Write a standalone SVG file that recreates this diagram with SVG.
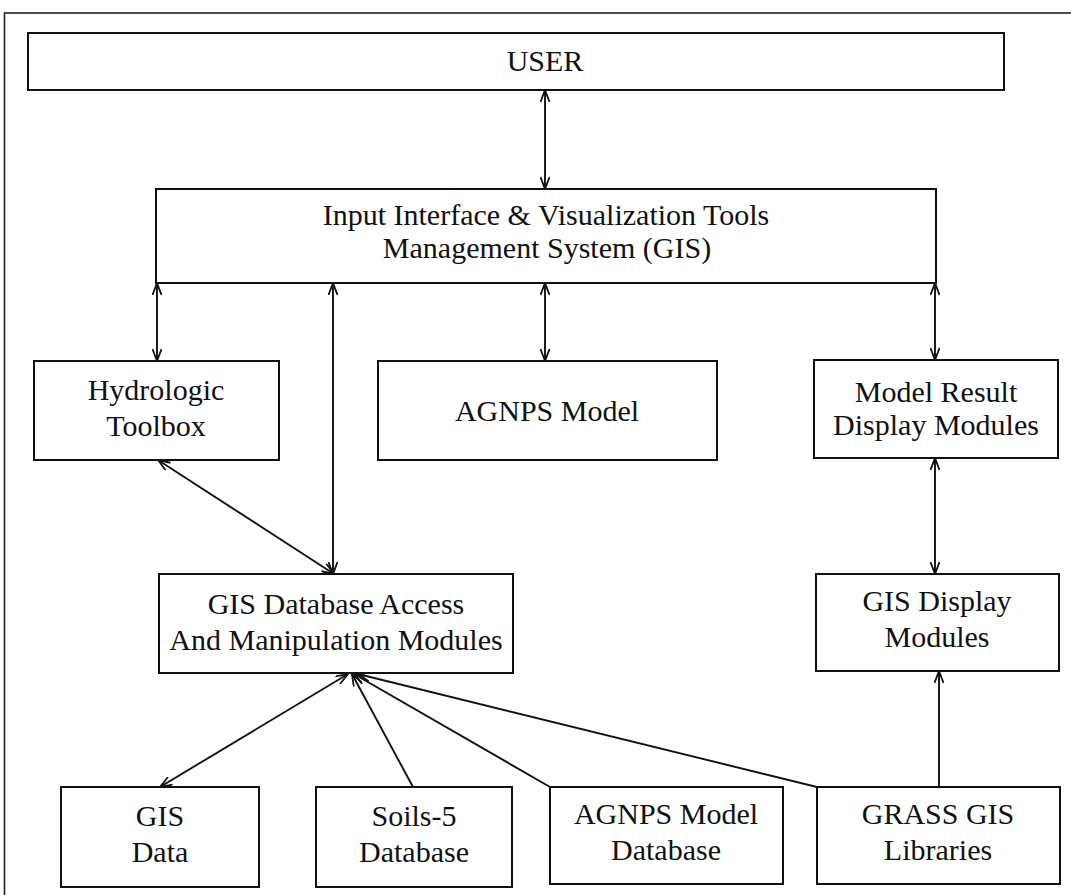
<svg xmlns="http://www.w3.org/2000/svg" width="1071" height="895" viewBox="0 0 1071 895">
<style>
.box{fill:#fff;stroke:#111;stroke-width:2}
.t{font-family:"Liberation Serif","Times New Roman",serif;font-size:30px;fill:#111;text-anchor:middle}
.c{fill:none;stroke:#111;stroke-width:1.9}
.frame{fill:none;stroke:#222;stroke-width:1.6}
</style>
<defs>
<marker id="ah" viewBox="0 0 14 10" refX="13" refY="5" markerWidth="14" markerHeight="10" markerUnits="userSpaceOnUse" orient="auto-start-reverse">
<path d="M1,0.5 L13,5 L1,9.5" fill="none" stroke="#111" stroke-width="1.8"/>
</marker>
</defs>
<rect class="frame" x="4.5" y="13" width="1090" height="900"/>
<g id="connectors">
<line class="c" x1="545" y1="90" x2="545" y2="189" marker-start="url(#ah)" marker-end="url(#ah)"/>
<line class="c" x1="157" y1="283" x2="157" y2="361" marker-start="url(#ah)" marker-end="url(#ah)"/>
<line class="c" x1="333" y1="283" x2="333" y2="574" marker-start="url(#ah)" marker-end="url(#ah)"/>
<line class="c" x1="545" y1="283" x2="545" y2="361" marker-start="url(#ah)" marker-end="url(#ah)"/>
<line class="c" x1="935" y1="283" x2="935" y2="360" marker-start="url(#ah)" marker-end="url(#ah)"/>
<line class="c" x1="158" y1="460" x2="334" y2="574" marker-start="url(#ah)" marker-end="url(#ah)"/>
<line class="c" x1="935" y1="458" x2="935" y2="574" marker-start="url(#ah)" marker-end="url(#ah)"/>
<line class="c" x1="939" y1="787" x2="939" y2="671" marker-end="url(#ah)"/>
<line class="c" x1="160" y1="787" x2="348" y2="674" marker-start="url(#ah)" marker-end="url(#ah)"/>
<line class="c" x1="413" y1="787" x2="352" y2="674" marker-end="url(#ah)"/>
<line class="c" x1="550" y1="787" x2="354" y2="674" marker-end="url(#ah)"/>
<line class="c" x1="817" y1="787" x2="358" y2="674" marker-end="url(#ah)"/>
</g>
<g id="user"><rect class="box" x="28" y="33" width="976" height="57"/><text class="t" x="545" y="71">USER</text></g>
<g id="interface"><rect class="box" x="156" y="189" width="780" height="94"/><text class="t" x="546" y="225">Input Interface &amp; Visualization Tools</text><text class="t" x="547" y="258">Management System (GIS)</text></g>
<g id="hydrologic"><rect class="box" x="34" y="361" width="245" height="99"/><text class="t" x="156" y="400">Hydrologic</text><text class="t" x="156" y="436">Toolbox</text></g>
<g id="agnps-model"><rect class="box" x="378" y="361" width="339" height="99"/><text class="t" x="547" y="421">AGNPS Model</text></g>
<g id="model-result"><rect class="box" x="814" y="360" width="244" height="98"/><text class="t" x="936" y="402">Model Result</text><text class="t" x="936" y="435">Display Modules</text></g>
<g id="gis-db-access"><rect class="box" x="159" y="574" width="354" height="99"/><text class="t" x="336" y="614">GIS Database Access</text><text class="t" x="336" y="650">And Manipulation Modules</text></g>
<g id="gis-display"><rect class="box" x="816" y="574" width="243" height="97"/><text class="t" x="937" y="611">GIS Display</text><text class="t" x="937" y="647">Modules</text></g>
<g id="gis-data"><rect class="box" x="61" y="787" width="198" height="100"/><text class="t" x="160" y="826">GIS</text><text class="t" x="160" y="862">Data</text></g>
<g id="soils5"><rect class="box" x="316" y="787" width="196" height="100"/><text class="t" x="414" y="826">Soils-5</text><text class="t" x="414" y="862">Database</text></g>
<g id="agnps-db"><rect class="box" x="550" y="787" width="233" height="97"/><text class="t" x="666" y="824">AGNPS Model</text><text class="t" x="666" y="860">Database</text></g>
<g id="grass"><rect class="box" x="817" y="787" width="243" height="97"/><text class="t" x="938" y="824">GRASS GIS</text><text class="t" x="938" y="860">Libraries</text></g>
</svg>
